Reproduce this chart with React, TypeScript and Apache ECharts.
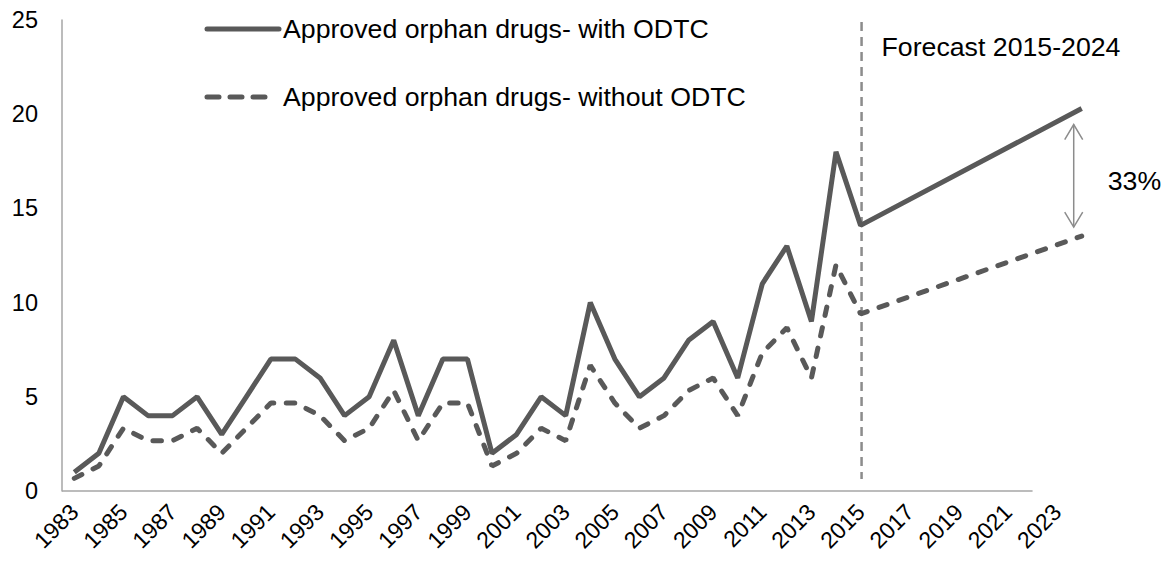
import React, { useEffect, useRef } from 'react';
import * as echarts from 'echarts';

// Approval years (historic 1983-2015, forecast end point 2024)
const years = [
  '1983', '1984', '1985', '1986', '1987', '1988', '1989', '1990', '1991', '1992',
  '1993', '1994', '1995', '1996', '1997', '1998', '1999', '2000', '2001', '2002',
  '2003', '2004', '2005', '2006', '2007', '2008', '2009', '2010', '2011', '2012',
  '2013', '2014', '2015', '2016', '2017', '2018', '2019', '2020', '2021', '2022',
  '2023', '2024',
];

// Approved orphan drugs per year with the orphan drug tax credit (ODTC)
const withOdtc: (number | null)[] = [
  1, 2, 5, 4, 4, 5, 3, 5, 7, 7,
  6, 4, 5, 8, 4, 7, 7, 2, 3, 5,
  4, 10, 7, 5, 6, 8, 9, 6, 11, 13,
  9, 18, 14.1, null, null, null, null, null, null, null,
  null, 20.3,
];

// Approved orphan drugs per year without the ODTC
const withoutOdtc: (number | null)[] = [
  0.67, 1.33, 3.33, 2.67, 2.67, 3.33, 2, 3.33, 4.67, 4.67,
  4, 2.67, 3.33, 5.33, 2.67, 4.67, 4.67, 1.33, 2, 3.33,
  2.67, 6.67, 4.67, 3.33, 4, 5.33, 6, 4, 7.33, 8.67,
  6, 12, 9.4, null, null, null, null, null, null, null,
  null, 13.53,
];

const seriesNames = [
  'Approved orphan drugs- with ODTC',
  'Approved orphan drugs- without ODTC',
];
const yRange = [0, 25];
const yStep = 5;
const forecastStart = '2015';
const forecastEnd = '2024';
const forecastLabel = 'Forecast 2015-2024';
const gapLabel = '33%';

const FONT = '"Liberation Sans", Arial, Helvetica, sans-serif';
const LINE = '#595959';
const GUIDE = '#8c8c8c';
const AXIS = '#a6a6a6';
const NOTE_SIZE = 26.7;

export default function App() {
  const ref = useRef<HTMLDivElement | null>(null);

  useEffect(() => {
    if (!ref.current) return;
    const chart = echarts.init(ref.current, null, { renderer: 'svg' });

    chart.setOption({
      animation: false,
      grid: { left: 62, right: 78, top: 20, bottom: 80 },
      xAxis: {
        type: 'category',
        data: years,
        boundaryGap: true,
        axisLine: { show: false },
        axisTick: { show: false },
        axisLabel: {
          interval: 1,
          rotate: 45,
          fontSize: 23,
          color: '#000',
          fontFamily: FONT,
          margin: 17,
        },
      },
      yAxis: {
        type: 'value',
        min: yRange[0],
        max: yRange[1],
        interval: yStep,
        axisLine: { show: true, lineStyle: { color: AXIS, width: 1.5 } },
        axisTick: { show: false },
        splitLine: { show: false },
        axisLabel: { fontSize: 23.5, color: '#000', fontFamily: FONT, margin: 24 },
      },
      series: [
        {
          name: seriesNames[0],
          type: 'line',
          data: withOdtc,
          connectNulls: true,
          symbol: 'none',
          lineStyle: { color: LINE, width: 5 },
        },
        {
          name: seriesNames[1],
          type: 'line',
          data: withoutOdtc,
          connectNulls: true,
          symbol: 'none',
          lineStyle: { color: LINE, width: 5, type: [8.5, 12.5], cap: 'round' },
        },
      ],
    });

    const px = (cat: string, v: number) =>
      chart.convertToPixel({ xAxisIndex: 0, yAxisIndex: 0 }, [cat, v]) as number[];

    const base = px(years[0], 0);
    const axisEnd = px('2022', 0);
    const fStart = px(forecastStart, 0);
    const solidEnd = px(forecastEnd, withOdtc[withOdtc.length - 1] as number);
    const dashedEnd = px(forecastEnd, withoutOdtc[withoutOdtc.length - 1] as number);
    const top = px(forecastStart, yRange[1]);

    const arrowX = solidEnd[0] - 8;
    const arrowTop = solidEnd[1] + 16;
    const arrowBottom = dashedEnd[1] - 9;
    const head = 9;
    const headDepth = 15;

    const textStyle = (text: string, x: number, y: number) => ({
      text,
      x,
      y,
      fill: '#000',
      fontSize: NOTE_SIZE,
      fontFamily: FONT,
      verticalAlign: 'middle',
      align: 'left',
    });

    chart.setOption({
      graphic: [
        // category axis baseline
        {
          type: 'line',
          silent: true,
          shape: { x1: 62, y1: base[1], x2: axisEnd[0], y2: base[1] },
          style: { stroke: AXIS, lineWidth: 1.5 },
        },
        // forecast divider
        {
          type: 'line',
          silent: true,
          shape: { x1: fStart[0] + 1, y1: top[1] + 2, x2: fStart[0] + 1, y2: base[1] - 12 },
          style: { stroke: GUIDE, lineWidth: 2.5, lineDash: [9, 6] },
        },
        {
          type: 'text',
          silent: true,
          style: textStyle(forecastLabel, fStart[0] + 21, 47),
        },
        // gap arrow between forecast end points
        {
          type: 'line',
          silent: true,
          shape: { x1: arrowX, y1: arrowTop, x2: arrowX, y2: arrowBottom },
          style: { stroke: GUIDE, lineWidth: 1.5 },
        },
        {
          type: 'polyline',
          silent: true,
          shape: {
            points: [
              [arrowX - head, arrowTop + headDepth],
              [arrowX, arrowTop],
              [arrowX + head, arrowTop + headDepth],
            ],
          },
          style: { stroke: GUIDE, lineWidth: 1.5, fill: 'none' },
        },
        {
          type: 'polyline',
          silent: true,
          shape: {
            points: [
              [arrowX - head, arrowBottom - headDepth],
              [arrowX, arrowBottom],
              [arrowX + head, arrowBottom - headDepth],
            ],
          },
          style: { stroke: GUIDE, lineWidth: 1.5, fill: 'none' },
        },
        {
          type: 'text',
          silent: true,
          style: textStyle(gapLabel, arrowX + 34, (arrowTop + arrowBottom) / 2 + 5),
        },
        // legend
        {
          type: 'line',
          silent: true,
          shape: { x1: 207, y1: 29, x2: 279, y2: 29 },
          style: { stroke: LINE, lineWidth: 5, lineCap: 'round' },
        },
        {
          type: 'text',
          silent: true,
          style: textStyle(seriesNames[0], 283, 29),
        },
        {
          type: 'line',
          silent: true,
          shape: { x1: 207, y1: 97, x2: 265, y2: 97 },
          style: { stroke: LINE, lineWidth: 5, lineCap: 'round', lineDash: [12, 11] },
        },
        {
          type: 'text',
          silent: true,
          style: textStyle(seriesNames[1], 283, 97),
        },
      ],
    });

    return () => chart.dispose();
  }, []);

  return (
    <div
      ref={ref}
      style={{ position: 'fixed', left: 0, top: 0, width: 1172, height: 571, background: '#fff' }}
    />
  );
}
